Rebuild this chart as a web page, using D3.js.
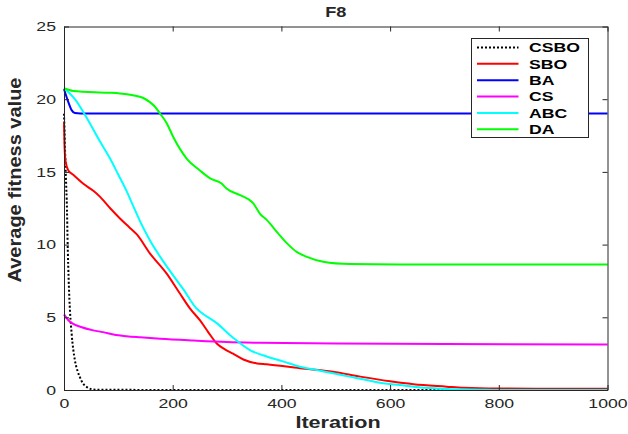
<!DOCTYPE html>
<html>
<head>
<meta charset="utf-8">
<script src="https://cdn.jsdelivr.net/npm/d3@7"></script>
<style>
  body { margin: 0; background: #fff; }
  text { font-family: "Liberation Sans", Arial, sans-serif; fill: #262626; }
</style>
</head>
<body>
<script>
// legend order = drawing order
const names = ["CSBO", "SBO", "BA", "CS", "ABC", "DA"];
const colors = ["#000000", "#ff0000", "#0000ff", "#ff00ff", "#00ffff", "#00ff00"];

const xTicks = [0, 200, 400, 600, 800, 1000];
const yTicks = [0, 5, 10, 15, 20, 25];

// [iteration, average fitness]
const csbo = [[0, 19.0], [1, 17.8], [2, 16.4], [3, 15.2], [4, 14.1], [5, 13.1], [7, 9.6], [10, 6.2],
  [14, 3.9], [20, 2.05], [25, 1.3], [29, 0.9], [35, 0.45], [42, 0.2], [50, 0.06], [60, 0.01], [1000, 0]];

const sbo = [[0, 18.4], [1, 16.8], [3, 15.7], [8, 15.1], [17, 14.8], [35, 14.2], [54, 13.7], [66, 13.3],
  [85, 12.5], [103, 11.8], [120, 11.2], [134, 10.7], [158, 9.4], [189, 8.0], [213, 6.65], [232, 5.6],
  [250, 4.8], [265, 4.0], [281, 3.2], [296, 2.8], [311, 2.5], [330, 2.1], [355, 1.83], [373, 1.77],
  [434, 1.5], [495, 1.26], [545, 0.92], [600, 0.6], [643, 0.4], [704, 0.23], [735, 0.15], [800, 0.1],
  [1000, 0.08]];

const ba = [[0, 20.7], [7, 19.9], [14, 19.25], [20, 19.05], [30, 19.02], [1000, 19.02]];

const cs = [[0, 5.2], [8, 4.8], [17, 4.55], [30, 4.35], [54, 4.1], [72, 3.98], [91, 3.82], [115, 3.7],
  [140, 3.62], [177, 3.52], [238, 3.4], [299, 3.3], [360, 3.25], [500, 3.2], [700, 3.17], [1000, 3.13]];

const abc = [[0, 20.75], [20, 20.0], [39, 18.9], [66, 17.1], [85, 15.9], [100, 14.8], [115, 13.7],
  [128, 12.6], [140, 11.6], [158, 10.3], [189, 8.5], [220, 6.9], [244, 5.6], [250, 5.4], [281, 4.6],
  [311, 3.6], [342, 2.75], [373, 2.3], [404, 1.95], [434, 1.6], [465, 1.37], [495, 1.15], [526, 0.92],
  [557, 0.69], [587, 0.46], [618, 0.34], [643, 0.23], [704, 0.07], [765, 0.02], [800, 0], [1000, 0]];

const da = [[0, 20.75], [17, 20.57], [79, 20.45], [103, 20.4], [127, 20.27], [145, 20.1], [158, 19.8],
  [167, 19.5], [177, 19.0], [189, 18.35], [201, 17.4], [213, 16.6], [226, 15.9], [250, 15.1],
  [269, 14.55], [290, 14.2], [299, 13.86], [324, 13.4], [348, 12.85], [361, 12.1], [373, 11.7],
  [394, 10.77], [410, 10.1], [428, 9.5], [447, 9.16], [477, 8.82], [526, 8.66], [618, 8.63], [1000, 8.63]];

const series = [csbo, sbo, ba, cs, abc, da];

// ----------------------------------------------------------- //

var width = 628, height = 434;
// plot box (note: "top" is taken by window.top, so use plot* names)
var plotLeft = 64, plotRight = 607.5, plotTop = 26.5, plotBottom = 390;
var textStretch = 1.36;   // the picture's text is wider than plain Arial

var svg = d3.select("body").append("svg")
    .attr("width", width)
    .attr("height", height);

var x = d3.scaleLinear().domain([0, 1000]).range([plotLeft, plotRight]);
var y = d3.scaleLinear().domain([0, 25]).range([plotBottom, plotTop]);

// ----------------------------------------------------------- //
// curves

var line = d3.line()
    .curve(d3.curveMonotoneX)
    .x(d => x(d[0]))
    .y(d => y(d[1]));

svg.append("g").selectAll("path")
  .data(series)
  .join("path")
    .attr("d", line)
    .attr("fill", "none")
    .attr("stroke", (d, i) => colors[i])
    .attr("stroke-width", 2)
    .attr("stroke-dasharray", (d, i) => i === 0 ? "2,2" : null);

// ----------------------------------------------------------- //
// axes, matlab style: ticks inside, box all round

function styleAxis(g) {
  g.select(".domain").attr("stroke", "#262626");
  g.selectAll(".tick line").attr("stroke", "#262626");
  g.selectAll("text").style("font-size", "13px").attr("fill", "#262626");
}

svg.append("g")
    .attr("transform", `translate(0,${plotBottom})`)
    .call(d3.axisBottom(x).tickValues(xTicks).tickFormat(d3.format("d"))
      .tickSizeInner(-5).tickSizeOuter(0).tickPadding(9))
    .call(styleAxis)
    .selectAll("text").attr("transform", `scale(${textStretch},1)`);

svg.append("g")
    .attr("transform", `translate(0,${plotTop})`)
    .call(d3.axisTop(x).tickValues(xTicks).tickSizeInner(-5).tickSizeOuter(0).tickFormat(""))
    .call(styleAxis);

svg.append("g")
    .attr("transform", `translate(${plotLeft},0)`)
    .call(d3.axisLeft(y).tickValues(yTicks).tickSizeInner(-5).tickSizeOuter(0))
    .call(styleAxis)
    .selectAll("text")
      .attr("x", -8 / textStretch)
      .attr("transform", `scale(${textStretch},1)`);

svg.append("g")
    .attr("transform", `translate(${plotRight},0)`)
    .call(d3.axisRight(y).tickValues(yTicks).tickSizeInner(-5).tickSizeOuter(0).tickFormat(""))
    .call(styleAxis);

// ----------------------------------------------------------- //
// titles

svg.append("text")
    .attr("transform", `translate(${(plotLeft + plotRight) / 2},17) scale(1.3,1)`)
    .attr("text-anchor", "middle")
    .style("font-size", "14px")
    .style("font-weight", "bold")
    .text("F8");

svg.append("text")
    .attr("transform", `translate(338,428) scale(1.27,1)`)
    .attr("text-anchor", "middle")
    .style("font-size", "17px")
    .style("font-weight", "bold")
    .text("Iteration");

svg.append("text")
    .attr("transform", "translate(21,180) rotate(-90)")
    .attr("text-anchor", "middle")
    .attr("textLength", 205)
    .attr("lengthAdjust", "spacingAndGlyphs")
    .style("font-size", "18px")
    .style("font-weight", "bold")
    .text("Average fitness value");

// ----------------------------------------------------------- //
// legend

var legend = svg.append("g").attr("transform", "translate(471.5,38.5)");

legend.append("rect")
    .attr("width", 117)
    .attr("height", 99)
    .attr("fill", "#fff")
    .attr("stroke", "#262626");

var rows = legend.selectAll("g.row")
  .data(names)
  .join("g")
    .attr("class", "row")
    .attr("transform", (d, i) => `translate(0,${9 + i * 16.35})`);

rows.append("line")
    .attr("x1", 5.5).attr("x2", 47)
    .attr("stroke", (d, i) => colors[i])
    .attr("stroke-width", 2)
    .attr("stroke-dasharray", (d, i) => i === 0 ? "2,2" : null);

rows.append("text")
    .attr("transform", `translate(57.5,0) scale(${textStretch},1)`)
    .attr("dy", "0.36em")
    .style("font-size", "13px")
    .style("font-weight", "bold")
    .style("fill", "#000")
    .text(d => d);
</script>
</body>
</html>
